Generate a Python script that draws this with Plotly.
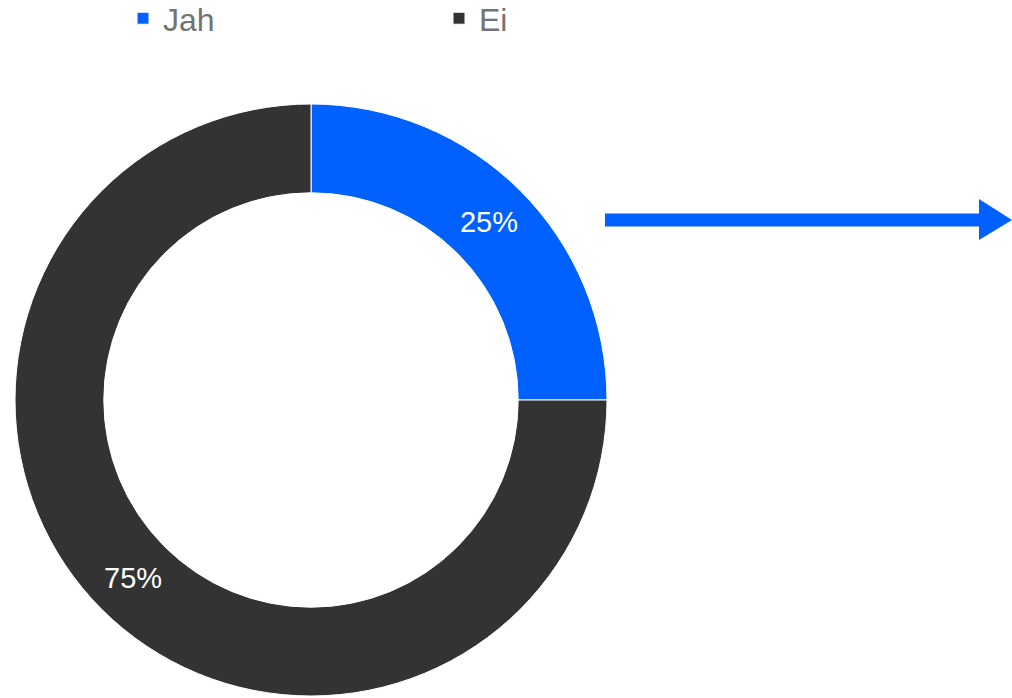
import plotly.graph_objects as go

labels = ["Jah", "Ei"]
values = [25, 75]
colors = ["#0061FE", "#333333"]

W, H = 1012, 698

fig = go.Figure()
fig.add_trace(go.Pie(
    labels=labels, values=values, hole=0.70,
    sort=False, direction="clockwise", rotation=0,
    marker=dict(colors=colors, line=dict(color="white", width=1)),
    textinfo="percent", textposition="inside", insidetextorientation="horizontal",
    textfont=dict(family="Liberation Sans, Arial", size=29, color="white"),
    domain=dict(x=[15 / W, 607 / W], y=[1 - 696 / H, 1 - 104 / H]),
    showlegend=True,
))

def px(x):
    return x / W

def py(y):
    return 1 - y / H

fig.add_shape(type="line", xref="paper", yref="paper",
              x0=px(605), x1=px(982), y0=py(220), y1=py(220),
              line=dict(color="#0061FE", width=13))
fig.add_shape(type="path", xref="paper", yref="paper",
              path=f"M {px(979)} {py(199)} L {px(1012)} {py(220)} L {px(979)} {py(240)} Z",
              fillcolor="#0061FE", line=dict(width=0))

fig.update_layout(
    width=W, height=H,
    margin=dict(l=0, r=0, t=0, b=0, autoexpand=False),
    paper_bgcolor="white", plot_bgcolor="white",
    legend=dict(orientation="h", x=px(123), y=1.013, xanchor="left", yanchor="top",
                entrywidth=271, entrywidthmode="pixels",
                font=dict(family="Liberation Sans, Arial", size=32, color="#737373"),
                itemwidth=30, traceorder="normal"),
)

fig.write_html("out.html", config={"displayModeBar": False},
               post_script="document.body.style.margin='0';")
